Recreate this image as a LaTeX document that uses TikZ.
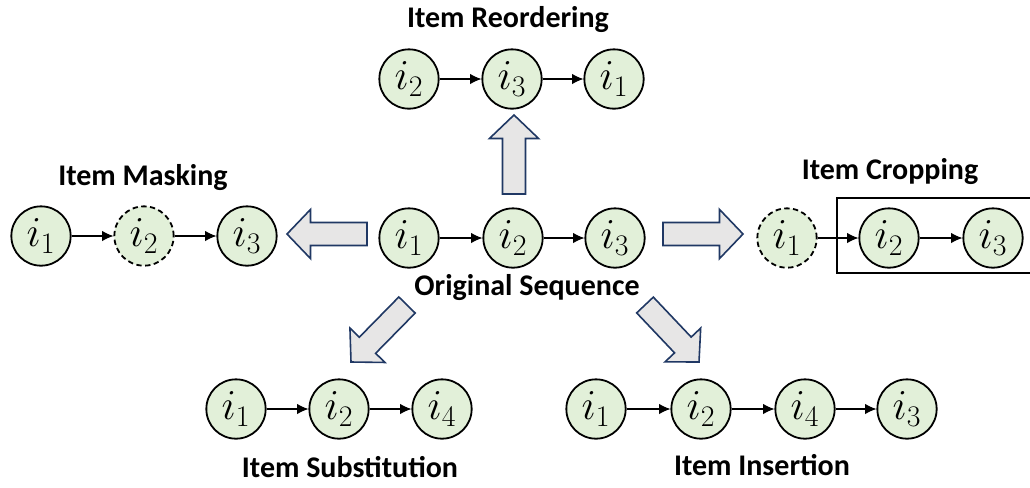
\documentclass[tikz,border=0pt]{standalone}
\usepackage{fix-cm}
\usepackage{fontspec}
\setmainfont{Carlito}
\usetikzlibrary{calc,arrows.meta}

\definecolor{itemfill}{HTML}{E2F0D9}
\definecolor{blkfill}{HTML}{E7E6E6}
\definecolor{blkline}{HTML}{203864}

\tikzset{
  item/.style={circle, draw=black, fill=itemfill, line width=1.35pt,
    minimum size=44.5pt, inner sep=0pt,
    font=\fontsize{32}{38}\selectfont},
  masked/.style={item, dash pattern=on 4pt off 2.6pt},
  link/.style={line width=0.8pt, -{Latex[length=8.5pt,width=7.8pt]}},
  title/.style={font=\bfseries\fontsize{22.5}{27}\selectfont, inner sep=0pt},
  blkarrow/.style={fill=blkfill, draw=blkline, line width=1.2pt, line join=miter},
}

% wide block arrow from tail coordinate #1 to tip coordinate #2
\newcommand\blockarrow[2]{%
  \coordinate (hb) at ($(#2)!17.6pt!(#1)$);
  \draw[blkarrow]
    ($(#1)!8.6pt!90:(#2)$) -- ($(hb)!8.6pt!-90:(#1)$) --
    ($(hb)!18.4pt!-90:(#1)$) -- (#2) -- ($(hb)!18.4pt!90:(#1)$) --
    ($(hb)!8.6pt!90:(#1)$) -- ($(#1)!8.6pt!-90:(#2)$) -- cycle;
}

\begin{document}
\begin{tikzpicture}[x=0.75pt, y=-0.75pt]
\useasboundingbox (0,0) rectangle (1030,487);

% original sequence
\node[item] (o1) at (409,238) {$i_1$};
\node[item] (o2) at (513,238) {$i_2$};
\node[item] (o3) at (615,238) {$i_3$};
\draw[link] (o1) -- (o2);
\draw[link] (o2) -- (o3);
\node[title] (olab) at (527,288) {Original Sequence};

% item reordering
\node[title] (rlab) at (508,20) {Item Reordering};
\node[item] (r1) at (409,79) {$i_2$};
\node[item] (r2) at (512,79) {$i_3$};
\node[item] (r3) at (614,79) {$i_1$};
\draw[link] (r1) -- (r2);
\draw[link] (r2) -- (r3);

% item masking
\node[title] (mlab) at (143,178) {Item Masking};
\node[item] (m1) at (41,236) {$i_1$};
\node[masked] (m2) at (144,236) {$i_2$};
\node[item] (m3) at (247,236) {$i_3$};
\draw[link] (m1) -- (m2);
\draw[link] (m2) -- (m3);

% item cropping
\node[title] (clab) at (890,172) {Item Cropping};
\node[masked] (c1) at (787,238) {$i_1$};
\node[item] (c2) at (889,238) {$i_2$};
\node[item] (c3) at (993,238) {$i_3$};
\draw[link] (c1) -- (c2);
\draw[link] (c2) -- (c3);
\coordinate (cbtr) at (1032,198);
\coordinate (cbtl) at (837,198);
\coordinate (cbbl) at (837,273);
\coordinate (cbbr) at (1032,273);
\draw[line width=1.2pt] (cbtr) -- (cbtl) -- (cbbl) -- (cbbr);

% item substitution
\node[item] (s1) at (236,409) {$i_1$};
\node[item] (s2) at (339,409) {$i_2$};
\node[item] (s3) at (442,409) {$i_4$};
\draw[link] (s1) -- (s2);
\draw[link] (s2) -- (s3);
\node[title] (slab) at (350,467) {Item Substitution};

% item insertion
\node[item] (n1) at (596,409) {$i_1$};
\node[item] (n2) at (701,409) {$i_2$};
\node[item] (n3) at (805,409) {$i_4$};
\node[item] (n4) at (907,409) {$i_3$};
\draw[link] (n1) -- (n2);
\draw[link] (n2) -- (n3);
\draw[link] (n3) -- (n4);
\node[title] (nlab) at (762,465) {Item Insertion};

% augmentation arrows
\coordinate (upA) at (514,194);  \coordinate (upB) at (514,115);
\coordinate (lfA) at (367,234);  \coordinate (lfB) at (287,234);
\coordinate (rtA) at (663,234);  \coordinate (rtB) at (743,234);
\coordinate (dlA) at (407,305);  \coordinate (dlB) at (351,362);
\coordinate (drA) at (645,305);  \coordinate (drB) at (699,362);
\blockarrow{upA}{upB}
\blockarrow{lfA}{lfB}
\blockarrow{rtA}{rtB}
\blockarrow{dlA}{dlB}
\blockarrow{drA}{drB}
\end{tikzpicture}
\end{document}
